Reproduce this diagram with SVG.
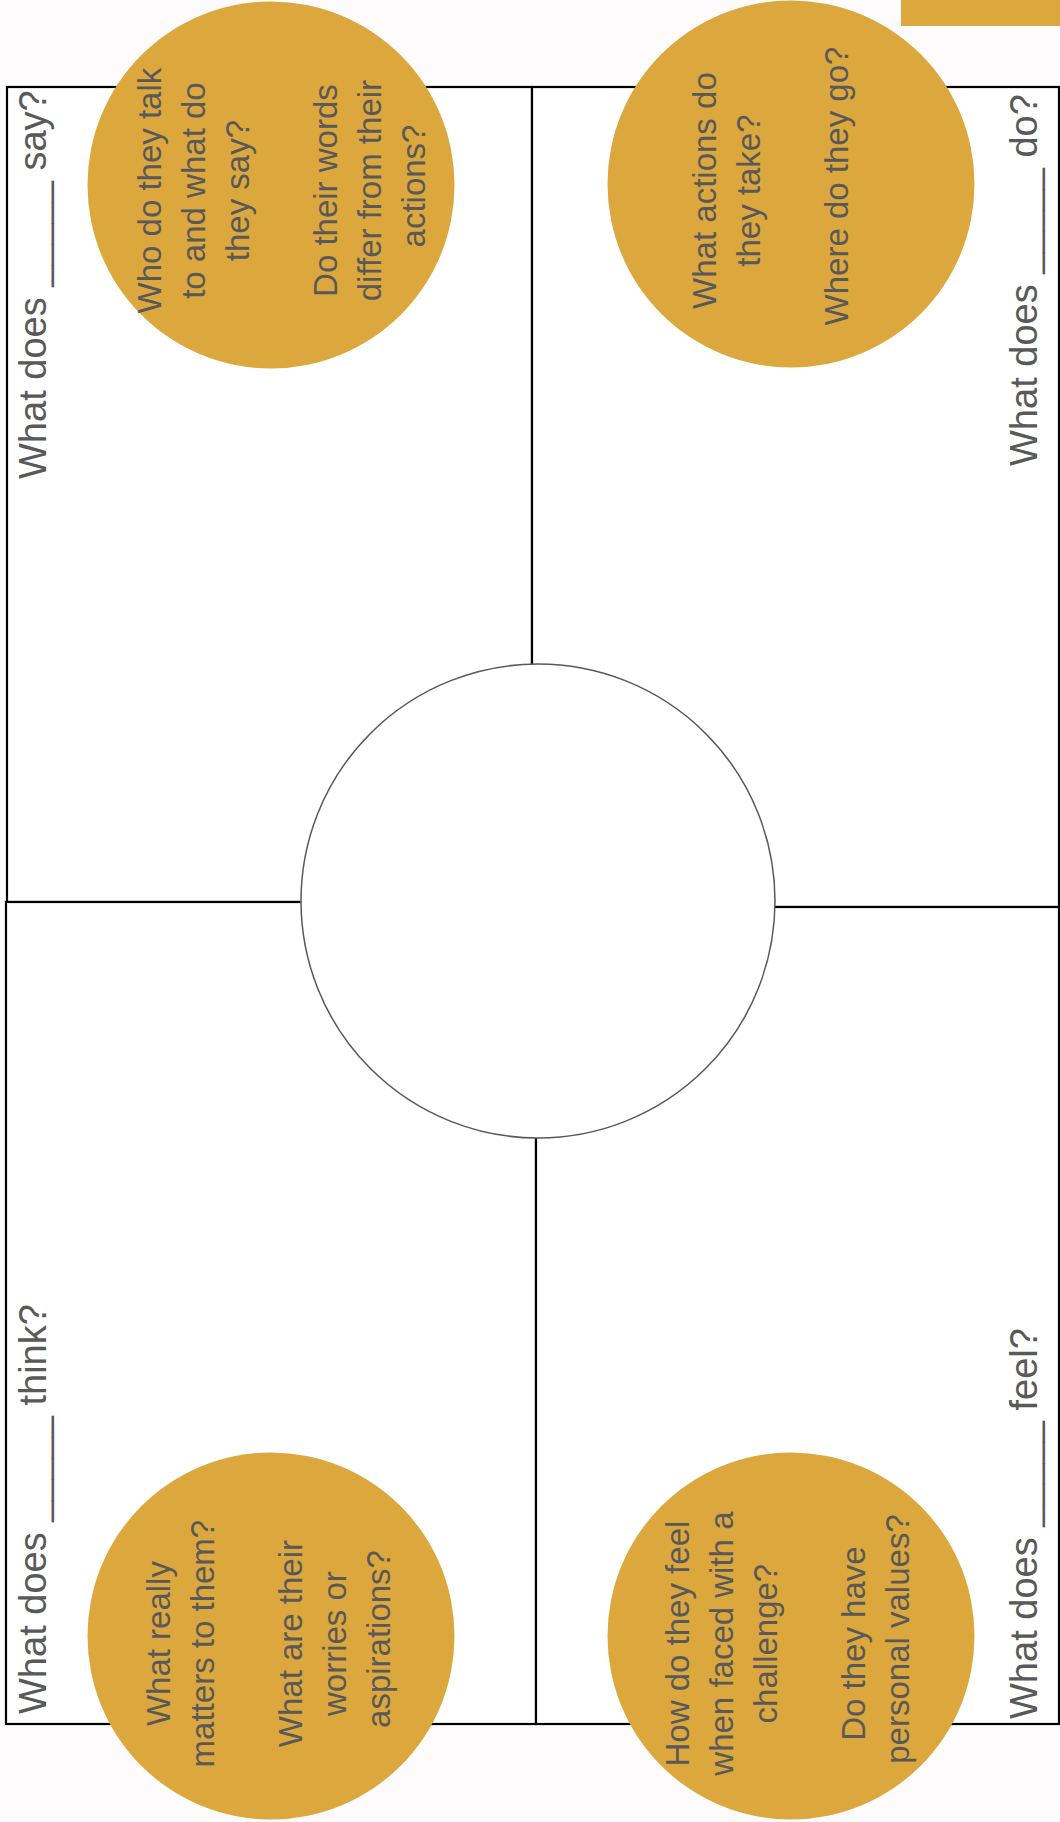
<svg xmlns="http://www.w3.org/2000/svg" width="1060" height="1822" viewBox="0 0 1060 1822">
  <style>
    .quad { fill: #ffffff; stroke: #000000; stroke-width: 2.2; }
    .gold { fill: #dca73c; }
    .label { font-family: "Liberation Sans", Arial, sans-serif; font-size: 38px; fill: #595959; }
    .q { font-family: "Liberation Sans", Arial, sans-serif; font-size: 33px; fill: #595959; text-anchor: middle; }
  </style>
  <rect x="0" y="0" width="1060" height="1822" fill="#fdfbfc"/>
  <g id="quadrants">
    <rect id="q-say" class="quad" x="7" y="87" width="525" height="815"/>
    <rect id="q-do" class="quad" x="532" y="87" width="527" height="820"/>
    <rect id="q-think" class="quad" x="6" y="902" width="530" height="822"/>
    <rect id="q-feel" class="quad" x="536" y="907" width="523" height="817"/>
  </g>
  <g id="center">
    <ellipse cx="538" cy="901" rx="237" ry="237" fill="#ffffff" stroke="#595959" stroke-width="1.5"/>
  </g>
  <g id="top-bar">
    <rect x="901" y="0" width="159" height="26" class="gold"/>
  </g>
  <g id="label-say">
    <text class="label" transform="translate(45.5,479) rotate(-90)">What does _____ say?</text>
  </g>
  <g id="label-do">
    <text class="label" transform="translate(1037,466) rotate(-90)">What does _____ do?</text>
  </g>
  <g id="label-think">
    <text class="label" transform="translate(45.5,1714) rotate(-90)">What does _____ think?</text>
  </g>
  <g id="label-feel">
    <text class="label" transform="translate(1037,1719) rotate(-90)">What does _____ feel?</text>
  </g>
  <g id="circle-say">
    <circle class="gold" cx="271" cy="185" r="183.5"/>
    <text class="q" transform="translate(0,186) rotate(-90)">
      <tspan x="0" y="161">Who do they talk</tspan>
      <tspan x="0" y="205">to and what do</tspan>
      <tspan x="0" y="249">they say?</tspan>
      <tspan x="0" y="337">Do their words</tspan>
      <tspan x="0" y="381">differ from their</tspan>
      <tspan x="0" y="425">actions?</tspan>
    </text>
  </g>
  <g id="circle-do">
    <circle class="gold" cx="791" cy="184" r="183.5"/>
    <text class="q" transform="translate(0,186) rotate(-90)">
      <tspan x="0" y="716">What actions do</tspan>
      <tspan x="0" y="760">they take?</tspan>
      <tspan x="0" y="848">Where do they go?</tspan>
    </text>
  </g>
  <g id="circle-think">
    <circle class="gold" cx="271" cy="1636" r="183.5"/>
    <text class="q" transform="translate(0,1639) rotate(-90)">
      <tspan x="0" y="170">What really</tspan>
      <tspan x="0" y="214">matters to them?</tspan>
      <tspan x="0" y="302">What are their</tspan>
      <tspan x="0" y="346">worries or</tspan>
      <tspan x="0" y="390">aspirations?</tspan>
    </text>
  </g>
  <g id="circle-feel">
    <circle class="gold" cx="791" cy="1636" r="183.5"/>
    <text class="q" transform="translate(0,1639) rotate(-90)">
      <tspan x="0" y="689">How do they feel</tspan>
      <tspan x="0" y="733">when faced with a</tspan>
      <tspan x="0" y="777">challenge?</tspan>
      <tspan x="0" y="865">Do they have</tspan>
      <tspan x="0" y="909">personal values?</tspan>
    </text>
  </g>
  <g id="connectors"></g>
</svg>
